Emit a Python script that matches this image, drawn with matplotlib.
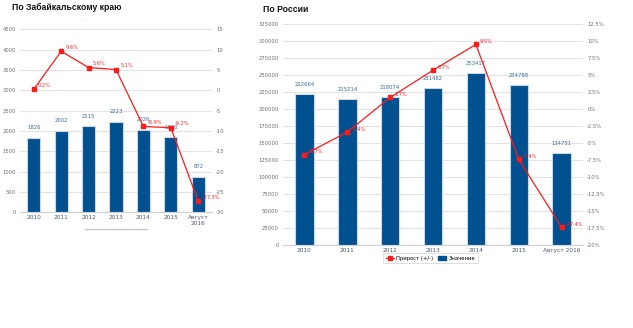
import matplotlib
matplotlib.use("Agg")
import matplotlib.pyplot as plt
from matplotlib.lines import Line2D
from matplotlib.patches import Patch
import numpy as np

categories = ["2010", "2011", "2012", "2013", "2014", "2015", "Август\n2016"]
categories_ru = ["2010", "2011", "2012", "2013", "2014", "2015", "Август 2016"]

zab_values = [1826, 2002, 2115, 2223, 2026, 1840, 872]
zab_growth = [0.2, 9.6, 5.6, 5.1, -8.9, -9.2, -27.3]

ru_values = [222664, 215214, 218074, 231482, 253417, 234788, 134751]
ru_growth = [-6.7, -3.4, 1.7, 5.7, 9.5, -7.4, -17.4]

BAR = "#01508F"
EDGE = "#c9d6e3"
RED = "#ff1a1a"
GRID = "#e3e3e3"
TICK = "#707070"

W, H = 633, 328
fig = plt.figure(figsize=(W / 100, H / 100), dpi=100)


def fx(x):
    return x / W


def fy(y):
    return 1 - y / H


def make_chart(rect, cats, vals, growth, lmax, lstep, rmin, rmax, rstep, rfmt,
               bar_w, val_off, grow_dx, grow_dy):
    ax = fig.add_axes(rect)
    x = np.arange(len(cats))
    ax.bar(x, vals, width=bar_w, color=BAR, edgecolor=EDGE, linewidth=0.8, zorder=2)
    ax.set_xlim(-0.5, len(cats) - 0.5)
    ax.set_ylim(0, lmax)
    ax.set_yticks(np.arange(0, lmax + 1, lstep))
    ax.yaxis.grid(True, color=GRID, linewidth=0.8, zorder=0)
    ax.set_axisbelow(True)
    for s in ["top", "left", "right"]:
        ax.spines[s].set_visible(False)
    ax.spines["bottom"].set_color("#d0d0d0")
    ax.spines["bottom"].set_linewidth(0.8)
    ax.set_xticks(x)
    ax.set_xticklabels(cats)
    ax.tick_params(axis="x", length=0, labelsize=4.2, labelcolor="#4a5a70", pad=2)
    ax.tick_params(axis="y", length=0, labelsize=3.8, labelcolor=TICK, pad=3)
    for xi, v in zip(x, vals):
        ax.annotate(str(v), (xi, v), xytext=(0, val_off), textcoords="offset points",
                    ha="center", va="bottom", fontsize=3.8, color="#3a6a9a")

    ax2 = ax.twinx()
    ax2.set_ylim(rmin, rmax)
    ticks = np.arange(rmin, rmax + 0.001, rstep)
    ax2.set_yticks(ticks)
    ax2.set_yticklabels([rfmt(t) for t in ticks])
    for s in ax2.spines.values():
        s.set_visible(False)
    ax2.tick_params(axis="y", length=0, labelsize=3.8, labelcolor=TICK, pad=3)
    ax2.plot(x, growth, color=RED, linewidth=0.9, marker="s", markersize=2.6,
             markerfacecolor=RED, markeredgecolor=RED, zorder=5)
    for xi, g in zip(x, growth):
        ax2.annotate(f"{g:.1f}%", (xi, g), xytext=(grow_dx, grow_dy),
                     textcoords="offset points", ha="left", va="center",
                     fontsize=3.6, color=RED)
    return ax, ax2


# Left chart: Zabaikalsky krai
make_chart([fx(20), fy(212.3), fx(212) - fx(20), fy(29.3) - fy(212.3)],
           categories, zab_values, zab_growth, 4500, 500, -30, 15, 5,
           lambda t: f"{t:g}", 0.48, 5.5, 3, 3)


def pct(t):
    return f"{t:g}%"


# Right chart: Russia
make_chart([fx(283), fy(245), fx(583) - fx(283), fy(24) - fy(245)],
           categories_ru, ru_values, ru_growth, 325000, 25000, -20, 12.5, 2.5,
           pct, 0.43, 5, 3, 2)

fig.text(fx(12), fy(7), "По Забайкальскому краю", fontsize=6.2, fontweight="bold",
         family="Liberation Sans", ha="left", va="center", color="#111111")
fig.text(fx(263), fy(10), "По России", fontsize=6.2, fontweight="bold",
         family="Liberation Sans", ha="left", va="center", color="#111111")
fig.text(fx(85.5), fy(20), "- -", fontsize=3, color="#b0b0b0", ha="center", va="center")

# decorative grey bar under left chart
fig.add_artist(Line2D([fx(85), fx(147)], [fy(228.5), fy(228.5)], color="#c8c8c8",
                      linewidth=1.0))

handles = [Line2D([0], [0], color=RED, linewidth=0.9, marker="s", markersize=2.6),
           Patch(facecolor=BAR, edgecolor=BAR)]
leg = fig.legend(handles, ["Прирост (+/-)", "Значение"], loc="center",
                 bbox_to_anchor=(fx(430.5), fy(258.3)), ncol=2, fontsize=3.8,
                 frameon=True, handlelength=1.6, handleheight=0.8,
                 columnspacing=0.8, borderpad=0.4, handletextpad=0.4)
leg.get_frame().set_edgecolor("#cfcfcf")
leg.get_frame().set_linewidth(0.6)
leg.get_frame().set_boxstyle("round,pad=0.1,rounding_size=0.3")

fig.savefig("out.png", dpi=100, facecolor="white")
